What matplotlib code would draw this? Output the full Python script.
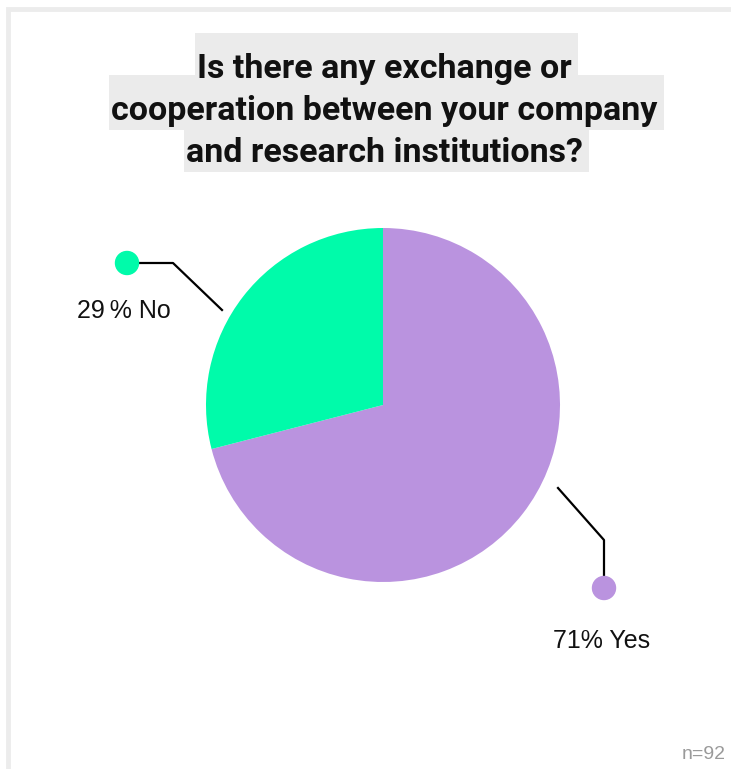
import matplotlib.pyplot as plt
from matplotlib.patches import Rectangle, Circle

# survey answers
labels = ["Yes", "No"]
shares = [71, 29]
label_texts = ["71% Yes", "29\u2009% No"]
colors = ["#BA93DF", "#00FBAA"]
title_lines = ["Is there any exchange or",
               "cooperation between your company",
               "and research institutions?"]
sample_note = "n=92"

W, H = 731, 769
fig = plt.figure(figsize=(W / 100, H / 100), dpi=100)
ax = fig.add_axes([0, 0, 1, 1])

# pie, clockwise from 12 o'clock
cx, cy, r = 383, H - 405, 177
ax.pie(shares, colors=colors, startangle=90, counterclock=False,
       center=(cx, cy), radius=r, wedgeprops=dict(linewidth=0))
ax.set_xlim(0, W)
ax.set_ylim(0, H)
ax.set_aspect("equal")
ax.axis("off")

# light frame on top and left
ax.plot([8, 8, W], [0, H - 8.5, H - 8.5], color="#ececec", lw=3.5,
        solid_joinstyle="miter", clip_on=False)

# title lines with grey highlight behind each line
fig.canvas.draw()
renderer = fig.canvas.get_renderer()
baselines = [78, 120, 162]
for line, base in zip(title_lines, baselines):
    t = ax.text(384, H - base, line, ha="center", va="baseline",
                fontsize=24.5, fontweight="bold", family="Roboto",
                color="#111111", zorder=3)
    bb = t.get_window_extent(renderer)
    ax.add_patch(Rectangle((bb.x0 - 2, H - base - 10), bb.width + 9, 55,
                           facecolor="#ebebeb", edgecolor="none", zorder=1))

# leader lines and dots
no_line_x = [127, 173, 222]
no_line_y = [263, 263, 310]
yes_line_x = [558, 604, 604]
yes_line_y = [488, 540, 588]
ax.plot(no_line_x, [H - y for y in no_line_y], color="black", lw=1.6, zorder=2)
ax.plot(yes_line_x, [H - y for y in yes_line_y], color="black", lw=1.6, zorder=2)
ax.add_patch(Circle((127, H - 263), 11.5, color=colors[1], zorder=3))
ax.add_patch(Circle((604, H - 588), 11.5, color=colors[0], zorder=3))

ax.text(77, H - 318, label_texts[1], ha="left", va="baseline",
        fontsize=18, family="Liberation Sans", color="#111111")
ax.text(553, H - 648, label_texts[0], ha="left", va="baseline",
        fontsize=18, family="Liberation Sans", color="#111111")

ax.text(726, H - 759, sample_note, ha="right", va="baseline",
        fontsize=14, family="Liberation Sans", color="#9a9a9a")

fig.savefig("out.png", dpi=100)
